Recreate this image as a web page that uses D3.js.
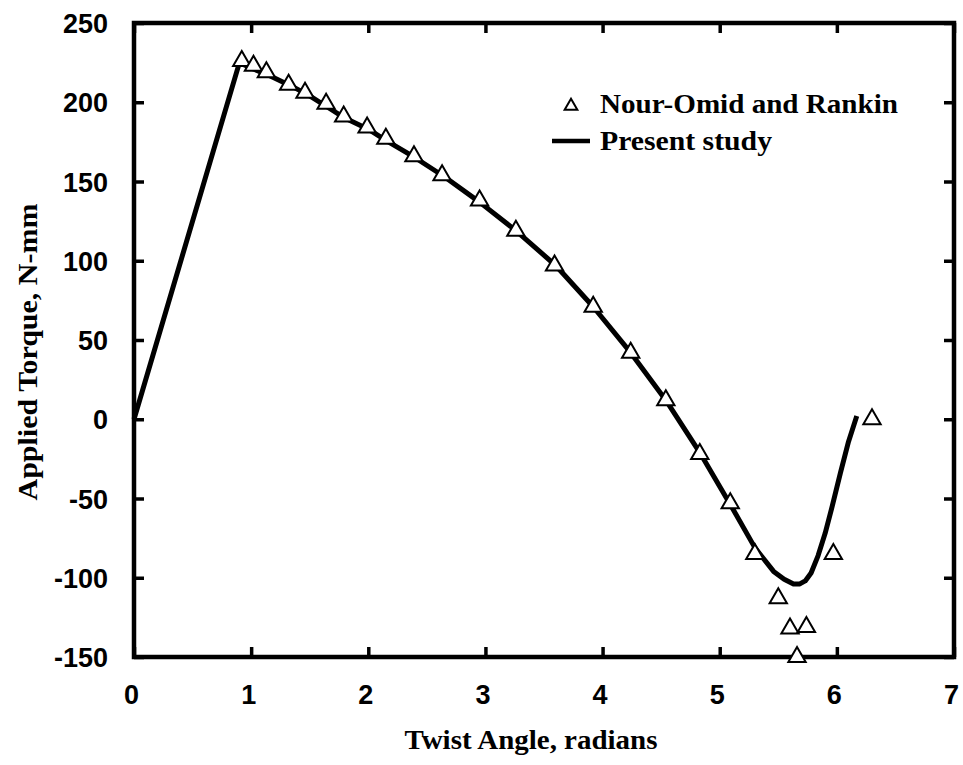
<html>
<head>
<meta charset="utf-8">
<title>Applied Torque vs Twist Angle</title>
<style>
  body { margin: 0; background: #fff; }
  svg { display: block; }
</style>
</head>
<body>
<div id="graph"></div>
<script src="https://cdnjs.cloudflare.com/ajax/libs/d3/7.8.5/d3.min.js"></script>
<script>
// Nour-Omid and Rankin (triangles)
var refX = [0.92, 1.02, 1.13, 1.32, 1.46, 1.64, 1.79, 1.99, 2.15, 2.39, 2.63, 2.95, 3.26, 3.59, 3.92, 4.24, 4.54, 4.83, 5.09, 5.30, 5.50, 5.60, 5.74, 5.66, 5.97, 6.30];
var refY = [226, 223, 219, 211, 206, 199, 191, 184, 177, 166, 154, 138, 119, 97, 71, 42, 12, -22, -53, -85, -113, -132, -131, -150, -85, 0];

// Present study (solid line)
var studyX = [0, 0.90, 1.02, 1.15, 1.35, 1.50, 1.65, 1.80, 2.00, 2.15, 2.40, 2.65, 2.95, 3.26, 3.60, 3.92, 4.24, 4.54, 4.83, 5.10, 5.30, 5.46, 5.55, 5.63, 5.68, 5.73, 5.78, 5.84, 5.90, 5.96, 6.03, 6.10, 6.17];
var studyY = [0, 225, 221, 217, 210, 204, 197, 190, 183, 176, 165, 153, 137, 119, 97, 71, 42, 12, -21, -55, -81, -96, -101, -104, -104, -102, -97, -86, -72, -55, -34, -14, 2];

var xTicks = [0, 1, 2, 3, 4, 5, 6, 7];
var yTicks = [250, 200, 150, 100, 50, 0, -50, -100, -150];

var legendLabels = ["Nour-Omid and Rankin", "Present study"];

var width = 963, height = 765;

var svg = d3.select("#graph").append("svg")
    .attr("width", width)
    .attr("height", height);

var x = d3.scaleLinear().domain([0, 7]).range([134, 954]);
var y = d3.scaleLinear().domain([-150, 250]).range([657, 23]);

var tickFont = "'Liberation Sans', Arial, Helvetica, sans-serif";
var titleFont = "'Liberation Serif', 'Times New Roman', Times, serif";
var plain = function(d) { return String(d); }; // keep ascii hyphen like the original

// axes, ticks point inward on all four sides
var bottom = svg.append("g")
    .attr("transform", "translate(0," + y(-150) + ")")
    .call(d3.axisBottom(x).tickValues(xTicks).tickSizeInner(-10).tickSizeOuter(0).tickFormat(plain));
bottom.selectAll("text")
    .attr("y", 47).attr("dy", 0).attr("dx", -3);

var left = svg.append("g")
    .attr("transform", "translate(" + x(0) + ",0)")
    .call(d3.axisLeft(y).tickValues(yTicks).tickSizeInner(-10).tickSizeOuter(0).tickFormat(plain));
left.selectAll("text")
    .attr("x", -26).attr("dy", "0.36em");

var top = svg.append("g")
    .attr("transform", "translate(0," + y(250) + ")")
    .call(d3.axisTop(x).tickValues(xTicks).tickSizeInner(-10).tickSizeOuter(0).tickFormat(""));

var right = svg.append("g")
    .attr("transform", "translate(" + x(7) + ",0)")
    .call(d3.axisRight(y).tickValues(yTicks).tickSizeInner(-10).tickSizeOuter(0).tickFormat(""));

svg.selectAll(".domain").remove();
svg.selectAll(".tick line").attr("stroke", "#000").attr("stroke-width", 3.5);
svg.selectAll(".tick text")
    .attr("fill", "#000")
    .style("font-family", tickFont)
    .style("font-size", "27px")
    .style("font-weight", "bold");

// frame
svg.append("rect")
    .attr("x", x(0)).attr("y", y(250))
    .attr("width", x(7) - x(0)).attr("height", y(-150) - y(250))
    .attr("fill", "none").attr("stroke", "#000").attr("stroke-width", 4.5);

// present study curve
var study = studyX.map(function(d, i) { return [d, studyY[i]]; });
svg.append("path")
    .datum(study)
    .attr("fill", "none")
    .attr("stroke", "#000")
    .attr("stroke-width", 5)
    .attr("stroke-linejoin", "round")
    .attr("stroke-linecap", "butt")
    .attr("d", d3.line().x(function(d) { return x(d[0]); }).y(function(d) { return y(d[1]); }));

// reference points
var tri = d3.symbol().type(d3.symbolTriangle).size(130);
svg.selectAll("path.pt")
    .data(refX.map(function(d, i) { return [d, refY[i]]; }))
    .enter()
    .append("path")
    .attr("class", "pt")
    .attr("d", tri)
    .attr("transform", function(d) { return "translate(" + x(d[0]) + "," + y(d[1]) + ")"; })
    .attr("fill", "#fff")
    .attr("stroke", "#000")
    .attr("stroke-width", 2);

// legend
svg.append("path")
    .attr("d", d3.symbol().type(d3.symbolTriangle).size(70))
    .attr("transform", "translate(571,106)")
    .attr("fill", "#fff").attr("stroke", "#000").attr("stroke-width", 2);
svg.append("line")
    .attr("x1", 552).attr("x2", 590).attr("y1", 141).attr("y2", 141)
    .attr("stroke", "#000").attr("stroke-width", 4.5);

var legendW = [298, 172];
svg.selectAll("text.legend")
    .data(legendLabels)
    .enter()
    .append("text")
    .attr("class", "legend")
    .attr("x", 600)
    .attr("y", function(d, i) { return 113 + i * 37; })
    .attr("textLength", function(d, i) { return legendW[i]; })
    .attr("lengthAdjust", "spacingAndGlyphs")
    .style("font-family", titleFont)
    .style("font-size", "27px")
    .style("font-weight", "bold")
    .text(function(d) { return d; });

// axis titles
svg.append("text")
    .attr("x", 531).attr("y", 749)
    .attr("text-anchor", "middle")
    .attr("textLength", 253)
    .attr("lengthAdjust", "spacingAndGlyphs")
    .style("font-family", titleFont)
    .style("font-size", "27px")
    .style("font-weight", "bold")
    .text("Twist Angle, radians");

svg.append("text")
    .attr("transform", "translate(37,352) rotate(-90)")
    .attr("text-anchor", "middle")
    .attr("textLength", 297)
    .attr("lengthAdjust", "spacingAndGlyphs")
    .style("font-family", titleFont)
    .style("font-size", "27px")
    .style("font-weight", "bold")
    .text("Applied Torque, N-mm");
</script>
</body>
</html>
